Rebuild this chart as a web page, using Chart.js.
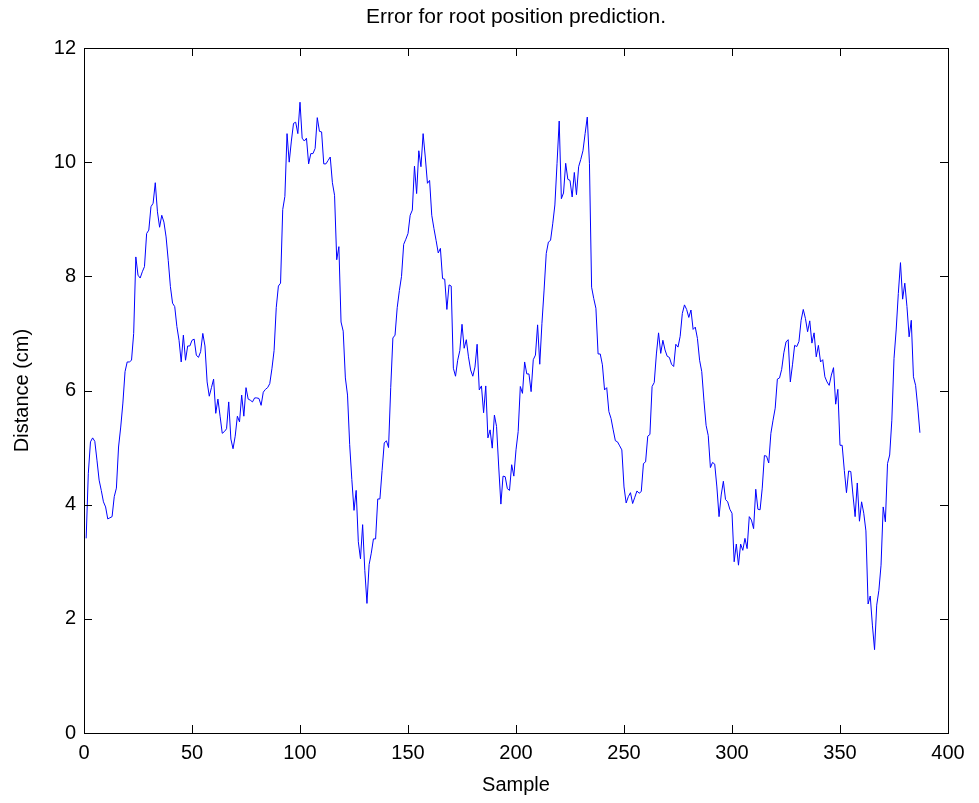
<!DOCTYPE html>
<html>
<head>
<meta charset="utf-8">
<title>Error for root position prediction.</title>
<script src="https://cdn.jsdelivr.net/npm/chart.js@4.4.1/dist/chart.umd.min.js"></script>
<style>
  html, body { margin: 0; padding: 0; background: #fff; }
  #wrap { width: 979px; height: 803px; }
</style>
</head>
<body>
<div id="wrap"><canvas id="errChart" width="979" height="803"></canvas></div>
<script>
// Distance error per sample, sample 1..N
const distance = [
  3.41, 4.55, 5.10, 5.17, 5.11, 4.78, 4.43, 4.25, 4.05, 3.96,
  3.75, 3.77, 3.79, 4.14, 4.29, 5.01, 5.36, 5.78, 6.33, 6.50,
  6.50, 6.53, 7.00, 8.34, 8.02, 7.97, 8.08, 8.17, 8.75, 8.81,
  9.22, 9.28, 9.64, 9.13, 8.86, 9.07, 8.95, 8.69, 8.28, 7.82,
  7.53, 7.47, 7.12, 6.88, 6.50, 6.97, 6.53, 6.78, 6.78, 6.88,
  6.90, 6.62, 6.58, 6.68, 7.00, 6.78, 6.15, 5.90, 6.05, 6.20,
  5.60, 5.85, 5.55, 5.25, 5.28, 5.33, 5.80, 5.15, 4.98, 5.20,
  5.55, 5.45, 5.92, 5.55, 6.05, 5.85, 5.83, 5.80, 5.87, 5.87,
  5.86, 5.74, 5.97, 6.02, 6.05, 6.12, 6.38, 6.70, 7.45, 7.83,
  7.88, 9.17, 9.40, 10.50, 10.00, 10.37, 10.68, 10.70, 10.50, 11.05,
  10.42, 10.37, 10.42, 9.97, 10.15, 10.15, 10.24, 10.78, 10.54, 10.53,
  9.97, 9.97, 10.03, 10.09, 9.64, 9.42, 8.29, 8.52, 7.20, 7.04,
  6.22, 5.92, 5.05, 4.44, 3.90, 4.25, 3.35, 3.05, 3.65, 2.85,
  2.27, 2.95, 3.15, 3.40, 3.40, 4.10, 4.10, 4.60, 5.08, 5.12,
  5.00, 6.05, 6.92, 6.97, 7.45, 7.75, 8.00, 8.56, 8.65, 8.75,
  9.07, 9.16, 9.93, 9.45, 10.20, 9.92, 10.50, 10.09, 9.63, 9.68,
  9.07, 8.84, 8.63, 8.41, 8.49, 7.96, 7.95, 7.42, 7.85, 7.83,
  6.39, 6.25, 6.53, 6.70, 7.16, 6.74, 6.89, 6.59, 6.36, 6.25,
  6.41, 6.81, 6.01, 6.08, 5.61, 6.08, 5.17, 5.31, 4.99, 5.57,
  5.37, 4.66, 4.01, 4.50, 4.49, 4.28, 4.25, 4.70, 4.50, 4.96,
  5.28, 6.07, 5.95, 6.50, 6.29, 6.29, 5.98, 6.54, 6.62, 7.15,
  6.46, 7.17, 7.76, 8.40, 8.60, 8.63, 8.92, 9.25, 9.98, 10.72,
  9.36, 9.46, 9.98, 9.70, 9.68, 9.39, 9.82, 9.43, 9.92, 10.05,
  10.20, 10.50, 10.79, 9.98, 7.81, 7.61, 7.44, 6.64, 6.64, 6.45,
  6.01, 6.05, 5.63, 5.51, 5.31, 5.12, 5.10, 5.03, 4.96, 4.31,
  4.03, 4.14, 4.21, 4.02, 4.13, 4.24, 4.20, 4.23, 4.72, 4.75,
  5.20, 5.23, 6.07, 6.14, 6.64, 7.01, 6.65, 6.88, 6.71, 6.60,
  6.58, 6.46, 6.42, 6.81, 6.76, 6.95, 7.35, 7.50, 7.42, 7.28,
  7.41, 7.07, 7.11, 6.91, 6.53, 6.33, 5.83, 5.39, 5.21, 4.65,
  4.74, 4.71, 4.31, 3.79, 4.17, 4.41, 4.09, 4.05, 3.92, 3.85,
  3.00, 3.31, 2.94, 3.31, 3.20, 3.41, 3.23, 3.79, 3.73, 3.58,
  4.27, 3.92, 3.91, 4.29, 4.86, 4.85, 4.73, 5.25, 5.48, 5.69,
  6.20, 6.22, 6.37, 6.66, 6.85, 6.89, 6.15, 6.45, 6.79, 6.77,
  6.86, 7.23, 7.42, 7.26, 7.03, 7.22, 6.83, 7.01, 6.59, 6.79,
  6.50, 6.54, 6.24, 6.15, 6.09, 6.27, 6.40, 5.76, 6.02, 5.04,
  5.04, 4.60, 4.21, 4.59, 4.58, 4.17, 3.79, 4.38, 3.71, 4.05,
  3.85, 3.54, 2.26, 2.40, 1.89, 1.46, 2.24, 2.50, 2.94, 3.96,
  3.70, 4.72, 4.87, 5.48, 6.56, 7.06, 7.70, 8.24, 7.60, 7.88,
  7.47, 6.94, 7.23, 6.24, 6.09, 5.71, 5.26
];

const xTicks = [0, 50, 100, 150, 200, 250, 300, 350, 400];
const yTicks = [0, 2, 4, 6, 8, 10, 12];

const points = distance.map((d, i) => ({ x: i + 1, y: d }));

const FONT = "'Liberation Sans', Arial, Helvetica, sans-serif";

// MATLAB style box with inward ticks on all four sides
const boxTicks = {
  id: 'boxTicks',
  afterDraw(chart) {
    const { ctx, chartArea: a, scales } = chart;
    const len = 8;
    ctx.save();
    ctx.strokeStyle = '#000';
    ctx.lineWidth = 1;
    ctx.beginPath();
    xTicks.forEach(v => {
      const px = Math.round(scales.x.getPixelForValue(v)) + 0.5;
      ctx.moveTo(px, a.bottom); ctx.lineTo(px, a.bottom - len);
      ctx.moveTo(px, a.top); ctx.lineTo(px, a.top + len);
    });
    yTicks.forEach(v => {
      const py = Math.round(scales.y.getPixelForValue(v)) + 0.5;
      ctx.moveTo(a.left, py); ctx.lineTo(a.left + len, py);
      ctx.moveTo(a.right, py); ctx.lineTo(a.right - len, py);
    });
    ctx.stroke();
    ctx.strokeRect(Math.round(a.left) + 0.5, Math.round(a.top) + 0.5,
                   Math.round(a.right - a.left), Math.round(a.bottom - a.top));
    ctx.restore();
  }
};

new Chart(document.getElementById('errChart'), {
  type: 'line',
  data: {
    datasets: [{
      data: points,
      borderColor: '#0000ff',
      borderWidth: 1,
      pointRadius: 0,
      tension: 0,
      fill: false
    }]
  },
  options: {
    responsive: false,
    animation: false,
    layout: { padding: { left: 0, right: 31, top: 0, bottom: 0 } },
    plugins: {
      legend: { display: false },
      tooltip: { enabled: false },
      title: {
        display: true,
        fullSize: false,
        text: 'Error for root position prediction.',
        color: '#000',
        font: { family: FONT, size: 21, weight: 'normal' },
        padding: { top: 5, bottom: 17.8 }
      }
    },
    scales: {
      x: {
        type: 'linear',
        min: 0,
        max: 400,
        afterFit: s => { s.height = 70; },
        afterBuildTicks: s => { s.ticks = xTicks.map(v => ({ value: v })); },
        grid: { display: false, drawTicks: false },
        border: { display: false },
        ticks: { color: '#000', padding: 8, maxRotation: 0, font: { family: FONT, size: 20 } },
        title: {
          display: true, text: 'Sample', color: '#000',
          font: { family: FONT, size: 20 }, padding: { top: 0, bottom: 6 }
        }
      },
      y: {
        min: 0,
        max: 12,
        afterFit: s => { s.width = 84; },
        afterBuildTicks: s => { s.ticks = yTicks.map(v => ({ value: v })); },
        grid: { display: false, drawTicks: false },
        border: { display: false },
        ticks: { color: '#000', padding: 8, font: { family: FONT, size: 20 } },
        title: {
          display: true, text: 'Distance (cm)', color: '#000',
          font: { family: FONT, size: 20 }, padding: { top: 10, bottom: 0 }
        }
      }
    }
  },
  plugins: [boxTicks]
});
</script>
</body>
</html>
